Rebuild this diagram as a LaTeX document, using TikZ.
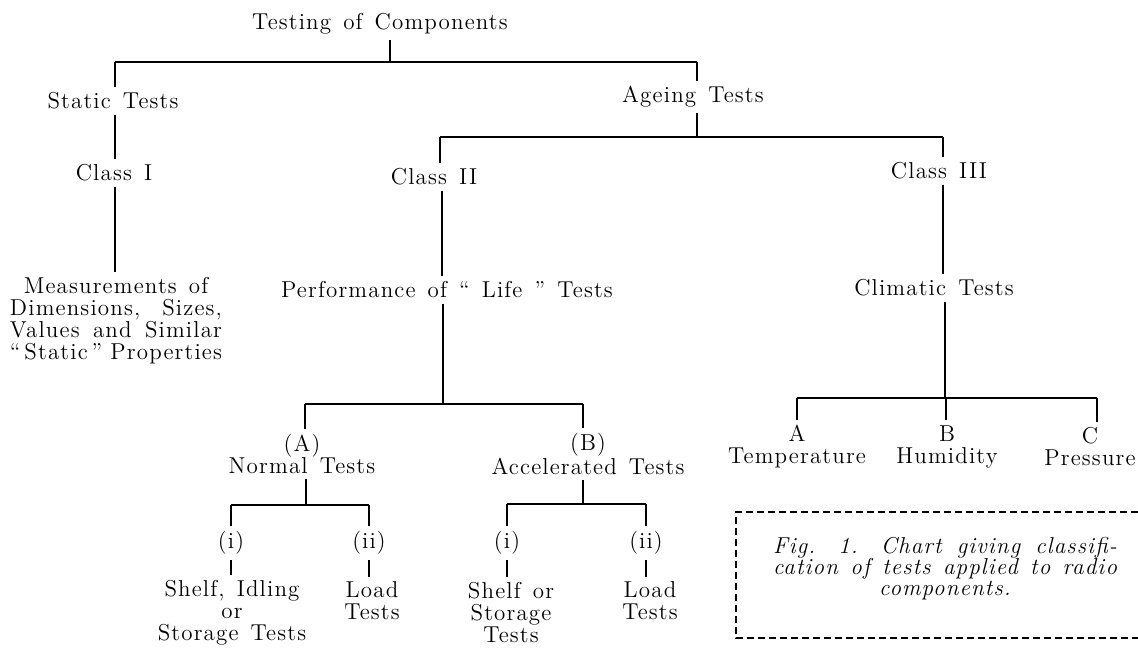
\documentclass[tikz,border=0pt]{standalone}
\usepackage{fontspec}
\setmainfont{Latin Modern Roman}[LetterSpace=5, WordSpace=1.4]
\usepackage{tikz}
\usetikzlibrary{calc}

\begin{document}
\begin{tikzpicture}[
        x=0.5pt, y=-0.5pt,
        lbl/.style={inner sep=2.5pt, align=center, font=\fontsize{11.5}{11}\selectfont},
        tree/.style={line width=0.7pt},
        capbox/.style={dashed, line width=0.6pt, dash pattern=on 3.5pt off 2pt}
    ]
\useasboundingbox (0,0) rectangle (1138,647);

% Root and first level
\node[lbl] (root) at (380,24) {Testing of Components};
\node[lbl] (static) at (113,101) {Static Tests};
\node[lbl] (ageing) at (693,97) {Ageing Tests};

% Static branch
\node[lbl] (classI) at (114,173) {Class I};
\node[lbl] (measure) at (116,321) {Measurements of\\
    \makebox[106pt][s]{Dimensions, Sizes,}\\
    \makebox[106pt][s]{Values and Similar}\\
    \makebox[106pt][s]{``\,Static\,'' Properties}};

% Ageing branch
\node[lbl] (classII) at (434,177) {Class II};
\node[lbl] (classIII) at (939,171) {Class III};
\node[lbl] (perf) at (447,290) {Performance of `` Life '' Tests};
\node[lbl] (climatic) at (934,288) {Climatic Tests};

% Class II subdivisions
\node[lbl] (normal) at (302,454) {(A)\\Normal Tests};
\node[lbl] (accel) at (588,454) {(B)\\Accelerated Tests};
\node[lbl] (ni) at (231,543) {(i)};
\node[lbl] (nii) at (369,543) {(ii)};
\node[lbl] (nishelf) at (232,613) {Shelf, Idling\\or\\Storage Tests};
\node[lbl] (niiload) at (372,601) {Load\\Tests};
\node[lbl] (ai) at (507,543) {(i)};
\node[lbl] (aii) at (646,543) {(ii)};
\node[lbl] (aishelf) at (511,613) {Shelf or\\Storage\\Tests};
\node[lbl] (aiiload) at (650,601) {Load\\Tests};

% Class III subdivisions
\node[lbl] (temp) at (797,447) {A\\Temperature};
\node[lbl] (humid) at (947,447) {B\\Humidity};
\node[lbl] (press) at (1090,447) {C\\Pressure};

% Bus junctions
\coordinate (r0) at (390,62);
\coordinate (r1) at (115,62);
\coordinate (r2) at (697,62);
\coordinate (g0) at (697,137);
\coordinate (g1) at (440,137);
\coordinate (g2) at (943,137);
\coordinate (p0) at (443,404);
\coordinate (p1) at (305,404);
\coordinate (p2) at (583,404);
\coordinate (n0) at (306,505);
\coordinate (n1) at (231,505);
\coordinate (n2) at (369,505);
\coordinate (a0) at (583,504);
\coordinate (a1) at (507,504);
\coordinate (a2) at (646,504);
\coordinate (c0) at (945,398);
\coordinate (c1) at (797,398);
\coordinate (c2) at (946,398);
\coordinate (c3) at (1097,398);

% Top level
\draw[tree] (r0 |- root.south) -- (r0);
\draw[tree] (r1) -- (r2);
\draw[tree] (r1) -- (r1 |- static.north);
\draw[tree] (r2) -- (r2 |- ageing.north);

% Static chain
\draw[tree] (r1 |- static.south) -- (r1 |- classI.north);
\draw[tree] (r1 |- classI.south) -- (r1 |- measure.north);

% Ageing chain
\draw[tree] (g0 |- ageing.south) -- (g0);
\draw[tree] (g1) -- (g2);
\draw[tree] (g1) -- (g1 |- classII.north);
\draw[tree] (g2) -- (g2 |- classIII.north);
\draw[tree] ($(g1 |- classII.south)+(2,0)$) -- ($(g1 |- perf.north)+(2,0)$);
\draw[tree] (p0 |- perf.south) -- (p0);
\draw[tree] (g2 |- classIII.south) -- (g2 |- climatic.north);
\draw[tree] (c0 |- climatic.south) -- (c0);

% Normal / accelerated
\draw[tree] (p1) -- (p2);
\draw[tree] (p1) -- (p1 |- normal.north);
\draw[tree] (p2) -- (p2 |- accel.north);
\draw[tree] (n0 |- normal.south) -- (n0);
\draw[tree] (n1) -- (n2);
\draw[tree] (n1) -- (n1 |- ni.north);
\draw[tree] (n2) -- (n2 |- nii.north);
\draw[tree] (ni.south) -- (ni |- nishelf.north);
\draw[tree] (nii.south) -- (nii |- niiload.north);
\draw[tree] (a0 |- accel.south) -- (a0);
\draw[tree] (a1) -- (a2);
\draw[tree] (a1) -- (a1 |- ai.north);
\draw[tree] (a2) -- (a2 |- aii.north);
\draw[tree] (ai.south) -- (ai |- aishelf.north);
\draw[tree] (aii.south) -- (aii |- aiiload.north);

% Climatic tests
\draw[tree] (c1) -- (c3);
\draw[tree] (c1) -- (c1 |- temp.north);
\draw[tree] (c2) -- (c2 |- humid.north);
\draw[tree] (c3) -- (c3 |- press.north);

% Caption
\node[lbl, font=\fontsize{11.5}{10.5}\selectfont\itshape] (caption) at (945,569) {%
    \makebox[172pt][s]{Fig. 1. Chart giving classifi-}\\
    \makebox[172pt][s]{cation of tests applied to radio}\\
    components.};
\draw[capbox] (1138,512) -- (736,512) -- (736,638) -- (1138,638);
\end{tikzpicture}
\end{document}
